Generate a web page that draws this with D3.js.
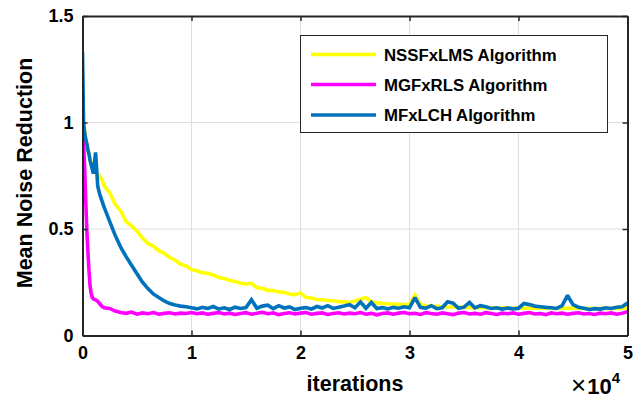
<!DOCTYPE html>
<html>
<head>
<meta charset="utf-8">
<script src="https://cdn.jsdelivr.net/npm/d3@7"></script>
<style>
  html, body { margin: 0; padding: 0; background: #fff; }
  svg { display: block; }
  text { font-family: "Liberation Sans", Arial, Helvetica, sans-serif; font-weight: bold; fill: #000; }
</style>
</head>
<body>
<svg id="chart" width="644" height="404"></svg>
<script>
// ---------- data ----------
const iterations = [0,100,200,300,400,500,600,700,800,900,1000,1200,1400,1600,1800,2000,
  2500,3000,3500,4000,4500,5000,5500,6000,6500,7000,7500,8000,8500,9000,9500,10000,
  10500,11000,11500,12000,12500,13000,13500,14000,14500,15000,
  15500,16000,16500,17000,17500,18000,18500,19000,19500,20000,
  20500,21000,21500,22000,22500,23000,23500,24000,24500,25000,
  25500,26000,26500,27000,27500,28000,28500,29000,29500,30000,
  30500,31000,31500,32000,32500,33000,33500,34000,34500,35000,
  35500,36000,36500,37000,37500,38000,38500,39000,39500,40000,
  40500,41000,41500,42000,42500,43000,43500,44000,44500,45000,
  45500,46000,46500,47000,47500,48000,48500,49000,49500,50000];

const nssfxlms = [1.0,0.98,0.96,0.93,0.9,0.88,0.85,0.83,0.81,0.79,0.78,0.77,0.76,0.745,0.73,0.7,
  0.67,0.615,0.585,0.535,0.515,0.49,0.458,0.432,0.42,0.398,0.386,0.366,0.354,0.334,0.327,0.31,
  0.304,0.294,0.292,0.284,0.272,0.268,0.258,0.254,0.245,0.242,
  0.245,0.224,0.222,0.212,0.211,0.204,0.203,0.195,0.192,0.2,
  0.178,0.176,0.169,0.168,0.164,0.163,0.159,0.158,0.155,0.162,
  0.17,0.178,0.158,0.153,0.151,0.149,0.148,0.146,0.145,0.148,
  0.19,0.145,0.14,0.138,0.137,0.135,0.134,0.134,0.133,0.132,
  0.132,0.131,0.131,0.13,0.13,0.129,0.13,0.129,0.128,0.129,
  0.128,0.129,0.128,0.128,0.129,0.128,0.127,0.128,0.128,0.129,
  0.128,0.127,0.128,0.127,0.128,0.127,0.128,0.127,0.128,0.13];

const mgfxrls = [1.0,0.91,0.78,0.63,0.49,0.39,0.3,0.23,0.195,0.178,0.172,0.168,0.16,0.148,0.136,0.13,
  0.127,0.115,0.108,0.104,0.11,0.1,0.106,0.102,0.108,0.1,0.104,0.107,0.101,0.105,0.103,0.108,
  0.102,0.106,0.1,0.104,0.108,0.101,0.105,0.099,0.103,0.107,
  0.1,0.104,0.109,0.102,0.106,0.098,0.103,0.107,0.101,0.105,
  0.108,0.1,0.104,0.106,0.099,0.103,0.107,0.101,0.105,0.102,
  0.108,0.1,0.104,0.097,0.103,0.106,0.1,0.105,0.108,0.102,
  0.104,0.099,0.107,0.103,0.1,0.106,0.102,0.098,0.105,0.108,
  0.101,0.104,0.1,0.107,0.103,0.099,0.105,0.102,0.106,0.1,
  0.104,0.108,0.101,0.103,0.098,0.106,0.102,0.105,0.1,0.104,
  0.107,0.101,0.103,0.099,0.105,0.102,0.106,0.1,0.104,0.112];

const mfxlch = [1.33,1.0,0.95,0.92,0.9,0.87,0.85,0.82,0.8,0.78,0.76,0.86,0.7,0.66,0.63,0.6,
  0.535,0.47,0.415,0.37,0.33,0.29,0.25,0.22,0.195,0.178,0.162,0.15,0.143,0.138,0.135,0.13,
  0.125,0.132,0.127,0.136,0.124,0.13,0.122,0.133,0.127,0.131,
  0.168,0.128,0.138,0.142,0.126,0.14,0.129,0.134,0.122,0.128,
  0.131,0.124,0.136,0.129,0.14,0.127,0.133,0.138,0.145,0.13,
  0.158,0.128,0.155,0.127,0.131,0.125,0.132,0.128,0.135,0.13,
  0.178,0.132,0.128,0.14,0.126,0.13,0.158,0.152,0.128,0.133,
  0.155,0.13,0.14,0.135,0.127,0.13,0.124,0.129,0.125,0.128,
  0.15,0.145,0.138,0.135,0.132,0.13,0.127,0.14,0.188,0.145,
  0.133,0.128,0.122,0.126,0.124,0.13,0.127,0.133,0.135,0.152];

const seriesNames = ["NSSFxLMS Algorithm", "MGFxRLS Algorithm", "MFxLCH Algorithm"];
const seriesColors = ["#ffff00", "#ff00ff", "#0072bd"];
const seriesValues = [nssfxlms, mgfxrls, mfxlch];
const xTicks = [0, 10000, 20000, 30000, 40000, 50000];
const xTickLabels = ["0", "1", "2", "3", "4", "5"];
const yTicks = [0, 0.5, 1, 1.5];
const yTickLabels = ["0", "0.5", "1", "1.5"];

// ---------- layout ----------
const svg = d3.select("#chart");
const L = 82.5, R = 627.5, T = 16, B = 335.5;
const x = d3.scaleLinear().domain([0, 50000]).range([L, R]);
const y = d3.scaleLinear().domain([0, 1.5]).range([B, T]);
const axisColor = "#262626";

// grid
const grid = svg.append("g");
grid.selectAll(".gx").data(xTicks.slice(1, -1)).enter().append("line")
  .attr("x1", d => x(d)).attr("x2", d => x(d)).attr("y1", T).attr("y2", B)
  .attr("stroke", "#dfdfdf").attr("stroke-width", 1);
grid.selectAll(".gy").data(yTicks.slice(1, -1)).enter().append("line")
  .attr("y1", d => y(d)).attr("y2", d => y(d)).attr("x1", L).attr("x2", R)
  .attr("stroke", "#dfdfdf").attr("stroke-width", 1);

// lines
svg.append("clipPath").attr("id", "clip").append("rect")
  .attr("x", L).attr("y", T).attr("width", R - L).attr("height", B - T);
const line = d3.line().x((d, i) => x(iterations[i])).y(d => y(d));
svg.append("g").attr("clip-path", "url(#clip)")
  .selectAll("path").data(seriesValues).enter().append("path")
  .attr("d", d => line(d))
  .attr("fill", "none")
  .attr("stroke", (d, i) => seriesColors[i])
  .attr("stroke-width", 3.6)
  .attr("stroke-linejoin", "miter")
  .attr("stroke-miterlimit", 2);

// axes
const tickLen = 5;
const xAxisB = d3.axisBottom(x).tickValues(xTicks).tickFormat((d, i) => xTickLabels[i])
  .tickSizeInner(-tickLen).tickSizeOuter(0).tickPadding(11);
const yAxisL = d3.axisLeft(y).tickValues(yTicks).tickFormat((d, i) => yTickLabels[i])
  .tickSizeInner(-tickLen).tickSizeOuter(0).tickPadding(9);
const xAxisT = d3.axisTop(x).tickValues(xTicks).tickFormat("").tickSizeInner(-tickLen).tickSizeOuter(0);
const yAxisR = d3.axisRight(y).tickValues(yTicks).tickFormat("").tickSizeInner(-tickLen).tickSizeOuter(0);

function styleAxis(g) {
  g.selectAll("path.domain").attr("stroke", axisColor).attr("stroke-width", 2);
  g.selectAll(".tick line").attr("stroke", axisColor).attr("stroke-width", 1.5);
  g.selectAll(".tick text").style("font-family", '"Liberation Sans", Arial, sans-serif')
    .style("font-weight", "bold").style("font-size", "18px").attr("fill", "#000");
}
svg.append("g").attr("transform", `translate(0,${B})`).call(xAxisB).call(styleAxis);
svg.append("g").attr("transform", `translate(${L},0)`).call(yAxisL).call(styleAxis);
svg.append("g").attr("transform", `translate(0,${T})`).call(xAxisT).call(styleAxis);
svg.append("g").attr("transform", `translate(${R},0)`).call(yAxisR).call(styleAxis);

// axis labels
svg.append("text").attr("x", 355).attr("y", 391)
  .attr("text-anchor", "middle").style("font-size", "21.5px").text("iterations");
svg.append("text").attr("transform", `translate(32,173) rotate(-90)`)
  .attr("text-anchor", "middle").style("font-size", "21.5px").text("Mean Noise Reduction");

// exponent
const ex = svg.append("text").attr("x", 571).attr("y", 394).style("font-size", "22px");
ex.append("tspan").style("font-weight", "normal").style("font-size", "26px").text("\u00d7");
ex.append("tspan").attr("dx", 1).text("10");
ex.append("tspan").attr("dy", -11).style("font-size", "15px").text("4");

// legend
const lg = svg.append("g");
lg.append("rect").attr("x", 300.5).attr("y", 35.5).attr("width", 307).attr("height", 97)
  .attr("fill", "#fff").attr("stroke", axisColor).attr("stroke-width", 1);
const legendY = [54.5, 84.5, 115];
seriesNames.forEach((n, i) => {
  lg.append("line").attr("x1", 311).attr("x2", 376).attr("y1", legendY[i]).attr("y2", legendY[i])
    .attr("stroke", seriesColors[i]).attr("stroke-width", 3.5);
  lg.append("text").attr("x", 384).attr("y", legendY[i] + 6).style("font-size", "16.8px").text(n);
});
</script>
</body>
</html>
